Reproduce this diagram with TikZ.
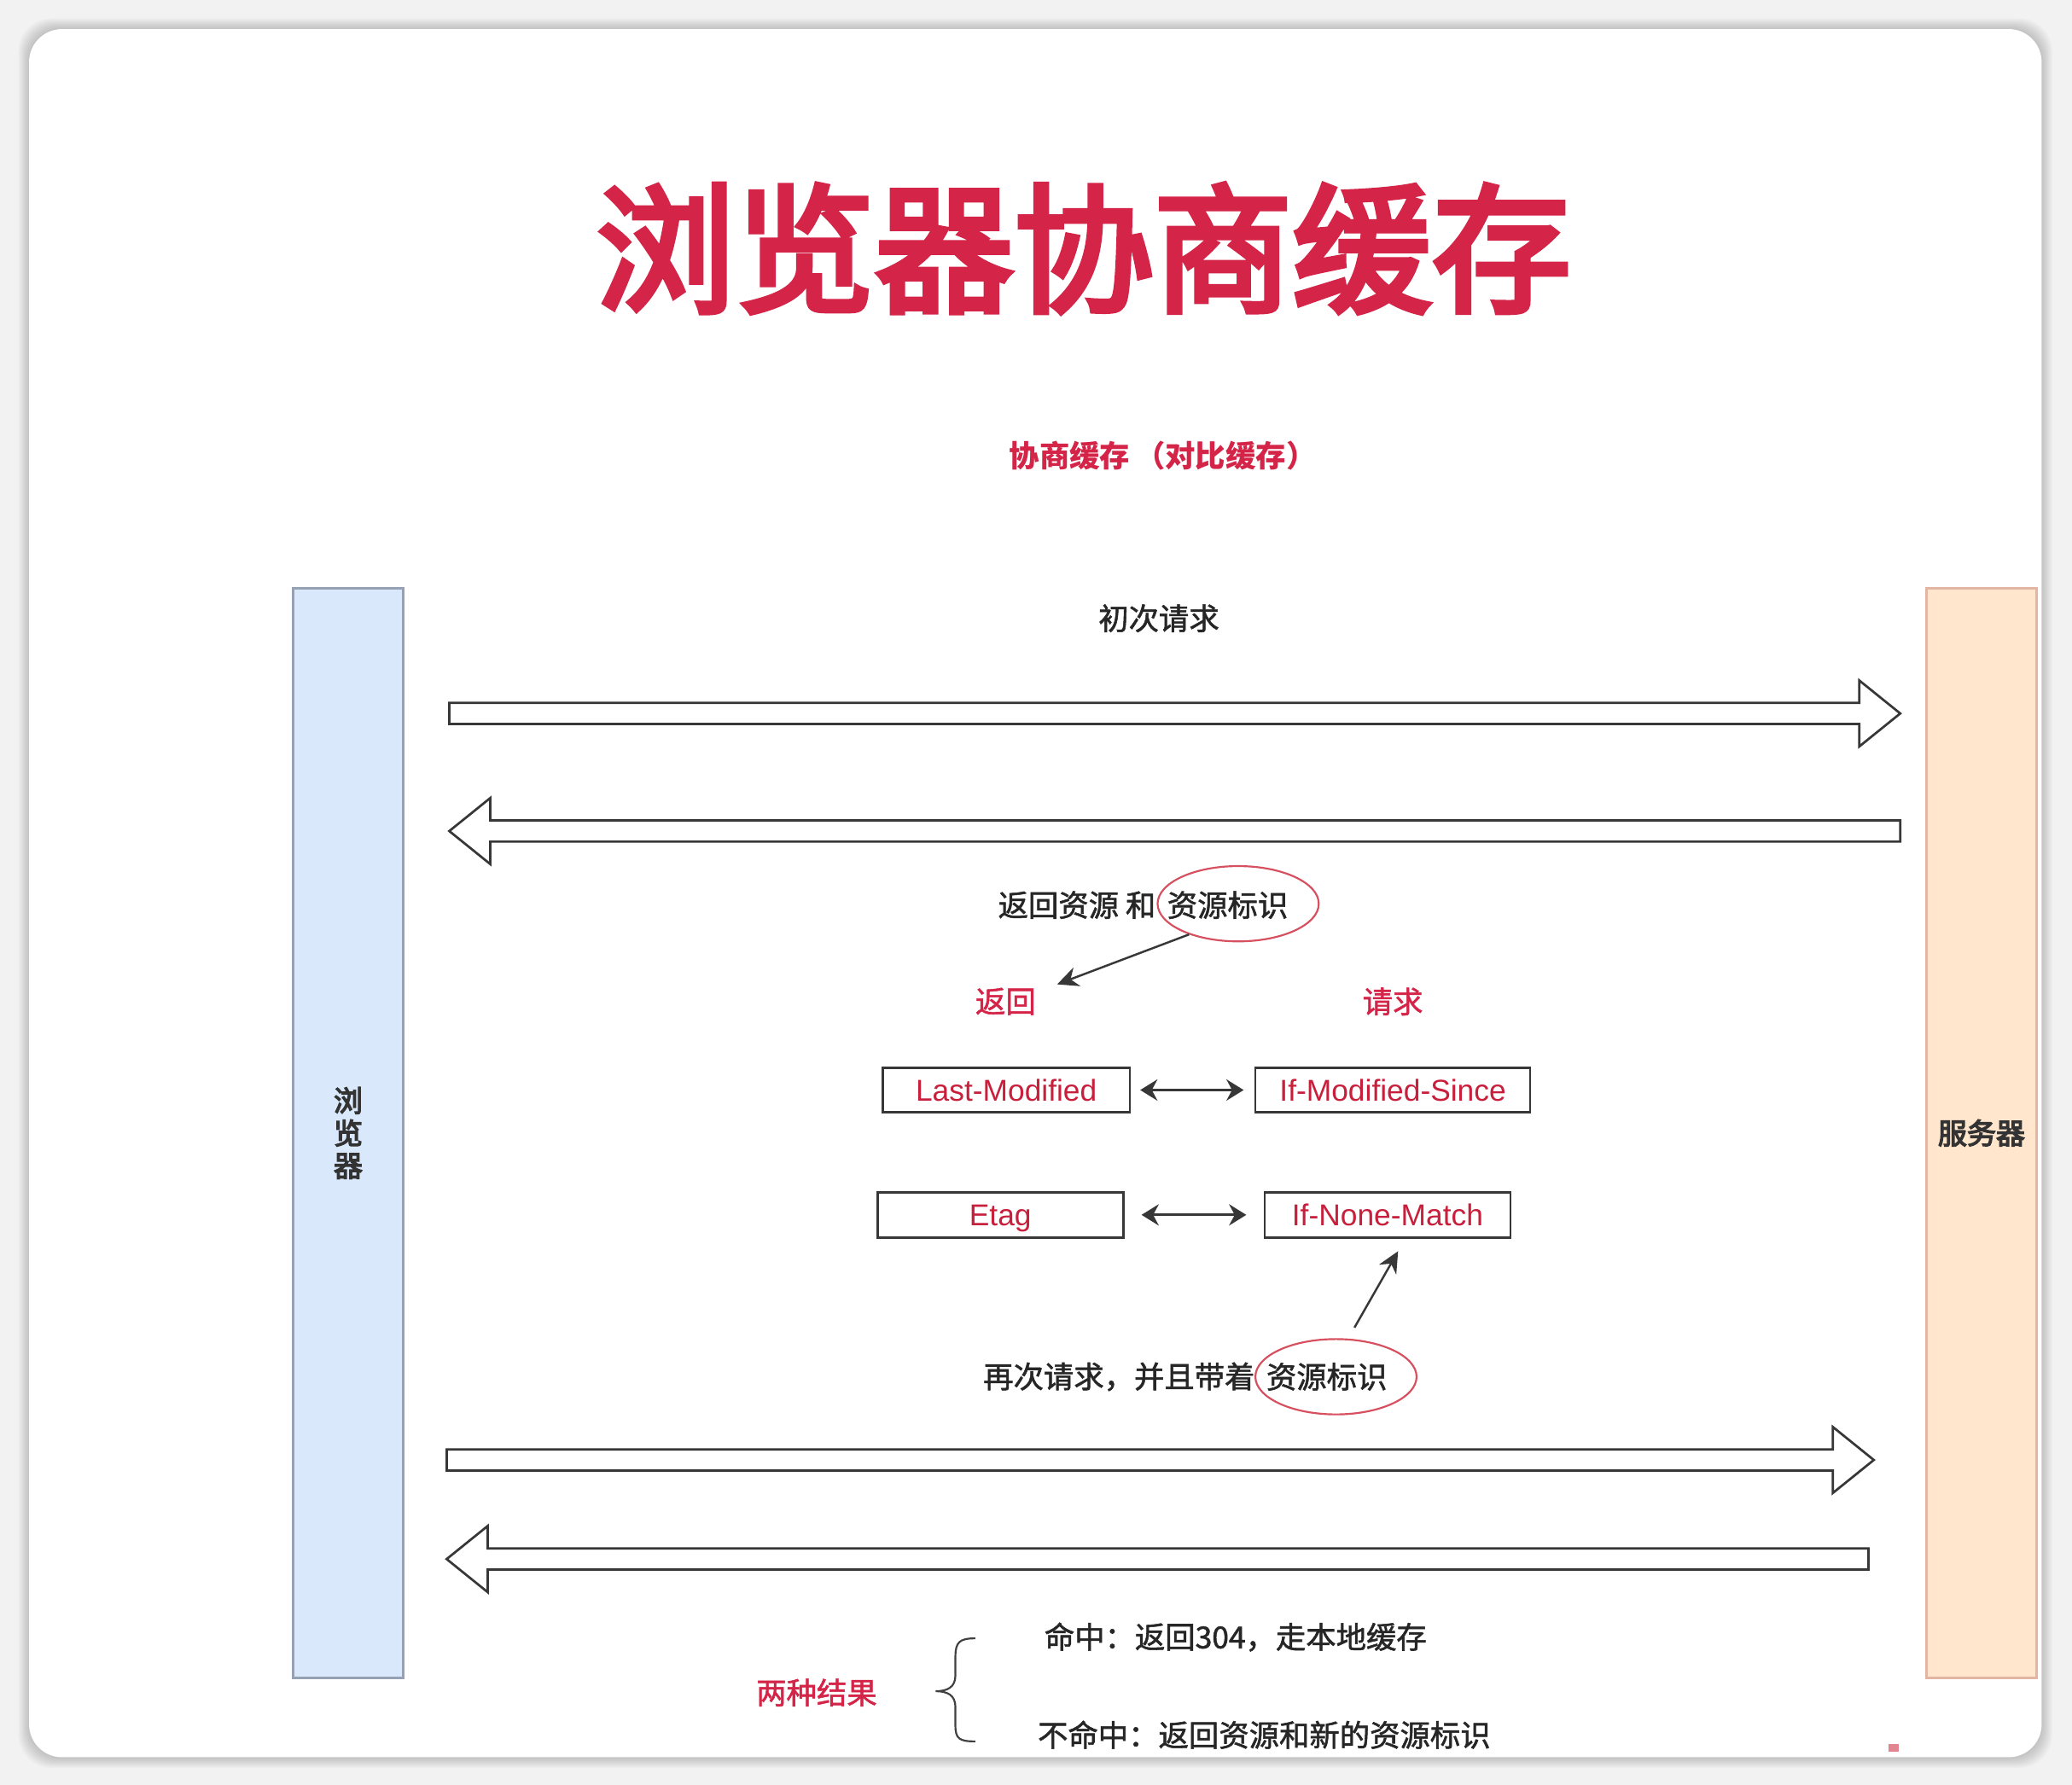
\documentclass[tikz,border=0pt]{standalone}
\usepackage{fontspec}
\setmainfont{Noto Sans CJK SC}
\newfontfamily\hdrfont{Liberation Sans}
\newfontfamily\titlefont[FakeBold=4]{Noto Sans CJK SC}
\newfontfamily\midfont[FakeBold=1.5]{Noto Sans CJK SC}
\usetikzlibrary{arrows.meta, positioning, shapes.geometric}

\definecolor{titlered}{RGB}{212,36,72}
\definecolor{boxred}{RGB}{200,32,60}
\definecolor{ringred}{RGB}{214,80,96}
\definecolor{clientfill}{RGB}{218,232,252}
\definecolor{clientline}{RGB}{150,162,180}
\definecolor{serverfill}{RGB}{255,230,204}
\definecolor{serverline}{RGB}{226,182,162}
\definecolor{inkgray}{RGB}{55,55,55}

\begin{document}
\begin{tikzpicture}[x=0.02cm, y=-0.02cm,
  body/.style={inner sep=0pt, text=black!85, font=\midfont\fontsize{13}{15}\selectfont},
  redlabel/.style={body, text=titlered},
  hdrbox/.style={draw=inkgray, line width=1pt, fill=white, inner sep=0pt,
    minimum height=0.68cm, text height=10pt, text depth=0.5pt,
    text=boxred, font=\hdrfont\fontsize{13}{15}\selectfont},
  pillar/.style={line width=1pt, minimum width=1.66cm, minimum height=16.5cm,
    inner sep=0pt, font=\titlefont\fontsize{12.5}{14.5}\selectfont, text=black!80},
  ring/.style={ellipse, draw=ringred, line width=0.8pt, minimum width=2.44cm,
    minimum height=1.14cm, inner sep=0pt},
  blockarr/.style={draw=inkgray, line width=1pt, fill=white, line join=miter},
  ptr/.style={-{Stealth[length=0.32cm, width=0.3cm]}, line width=0.9pt, draw=inkgray},
  twoway/.style={{Stealth[length=0.26cm, width=0.32cm]}-{Stealth[length=0.26cm, width=0.32cm]},
    line width=1.2pt, draw=inkgray}]

  % page and card
  \useasboundingbox (0,0) rectangle (1568,1351);
  \fill[black!5] (0,0) rectangle (1568,1351);
  \foreach \g in {1,...,8}
    \fill[black, opacity=0.025, rounded corners=0.5cm]
      (22-\g,22-\g) rectangle (1545+\g,1330+\g);
  \fill[white, rounded corners=0.5cm] (22,22) rectangle (1545,1330);

  % titles
  \node[inner sep=0pt, text=titlered, font=\titlefont\fontsize{60}{70}\selectfont]
    (title) at (820,188) {浏览器协商缓存};
  \node[inner sep=0pt, text=titlered, font=\bfseries\fontsize{13}{15}\selectfont]
    (subtitle) at (880,345) {协商缓存\,（对比缓存）};

  % browser / server
  \node[pillar, draw=clientline, fill=clientfill, align=center]
    (browser) at (263.5,857.5) {浏\\[-0.5pt]览\\[-0.5pt]器};
  \node[pillar, draw=serverline, fill=serverfill] (server) at (1499.5,857.5) {服务器};

  % big arrows: tail / tip / centre line / direction
  \foreach \tl/\tp/\yc/\s in {340/1438/540/1, 1438/340/629/-1,
                              338/1418/1105/1, 1414/338/1180/-1}
    \draw[blockarr] (\tl,\yc-8) -- ({\tp-\s*31},\yc-8) -- ({\tp-\s*31},\yc-25)
      -- (\tp,\yc) -- ({\tp-\s*31},\yc+25) -- ({\tp-\s*31},\yc+8)
      -- (\tl,\yc+8) -- cycle;

  \node[body] (first) at (877,468) {初次请求};

  % first response
  \node[body, anchor=east] (resp) at (875,685) {返回资源 和};
  \node[body] (tag1) at (929,685) {资源标识};
  \node[ring] (ring1) at (937,684) {};
  \node[redlabel] (back) at (761,758) {返回};
  \node[redlabel] (ask) at (1054,758) {请求};
  \coordinate (backtip) at (800,745);
  \draw[ptr] (ring1.212) -- (backtip);

  % header pairs
  \node[hdrbox, minimum width=3.74cm] (lm) at (761.5,825) {Last-Modified};
  \node[hdrbox, minimum width=4.16cm] (ims) at (1054,825) {If-Modified-Since};
  \node[hdrbox, minimum width=3.72cm] (etag) at (757,919.5) {Etag};
  \node[hdrbox, minimum width=3.72cm] (inm) at (1050,919.5) {If-None-Match};
  \draw[twoway, shorten <=0.14cm, shorten >=0.16cm] (lm) -- (ims);
  \draw[twoway, shorten <=0.26cm, shorten >=0.26cm] (etag) -- (inm);

  % second request
  \node[body, anchor=east] (again) at (950,1042) {再次请求，并且带着};
  \node[body] (tag2) at (1004,1042) {资源标识};
  \node[ring] (ring2) at (1011,1042) {};
  \coordinate (inmtip) at (1058,947);
  \draw[ptr] ([xshift=0.28cm, yshift=0.16cm]ring2.north) -- (inmtip);

  % outcomes
  \node[redlabel] (two) at (618,1281) {两种结果};
  \draw[line width=0.8pt, draw=black!75]
    (738,1240) .. controls (726,1240) and (723,1243) .. (723,1254) -- (723,1268)
    .. controls (723,1277) and (717,1280) .. (708,1280)
    .. controls (717,1280) and (723,1283) .. (723,1292) -- (723,1306)
    .. controls (723,1316) and (726,1318) .. (738,1318);
  \node[body, anchor=west] (hit) at (790,1239) {命中：返回304，走本地缓存};
  \node[body, anchor=west] (miss) at (785,1313) {不命中：返回资源和新的资源标识};

  \fill[ringred!70] (1429,1320) rectangle (1437,1326);
\end{tikzpicture}
\end{document}
